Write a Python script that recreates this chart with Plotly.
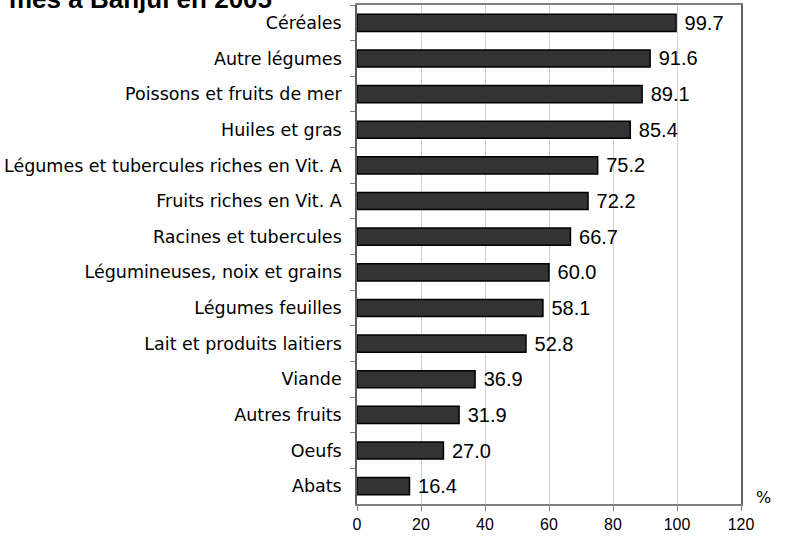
import plotly.graph_objects as go

categories = ["Céréales", "Autre légumes", "Poissons et fruits de mer", "Huiles et gras",
              "Légumes et tubercules riches en Vit. A", "Fruits riches en Vit. A",
              "Racines et tubercules", "Légumineuses, noix et grains", "Légumes feuilles",
              "Lait et produits laitiers", "Viande", "Autres fruits", "Oeufs", "Abats"]
values = [99.7, 91.6, 89.1, 85.4, 75.2, 72.2, 66.7, 60.0, 58.1, 52.8, 36.9, 31.9, 27.0, 16.4]
x_ticks = [0, 20, 40, 60, 80, 100, 120]

fig = go.Figure(go.Bar(
    x=values, y=categories, orientation="h",
    marker=dict(color="#333333", line=dict(color="#000000", width=1.5)),
    width=0.48,
    texttemplate=" %{x:.1f}", textposition="outside",
    constraintext="none",
    textfont=dict(size=20, color="#000000", family="Liberation Sans"),
    cliponaxis=False,
    hoverinfo="skip",
))

L, R, T, B = 357, 44, 5, 37
W, H = 785, 541
pw = W - L - R
ph = H - T - B

fig.update_layout(
    width=W, height=H,
    margin=dict(l=L, r=R, t=T, b=B),
    plot_bgcolor="white", paper_bgcolor="white",
    font=dict(family="Liberation Sans", color="#000000"),
    showlegend=False,
    xaxis=dict(range=[0, 120], tickvals=x_ticks, showgrid=True, gridcolor="#d0d0d0",
               gridwidth=1, zeroline=False, ticks="outside", ticklen=5, tickcolor="#808080",
               showline=True, linecolor="#808080", linewidth=1.5, mirror=True,
               tickfont=dict(size=16), automargin=False),
    yaxis=dict(autorange="reversed", ticks="outside", ticklen=5, tickcolor="#808080",
               tickson="boundaries", showline=True, linecolor="#606060", linewidth=1.5,
               mirror=True, showgrid=False, automargin=False, ticklabelstandoff=10,
               tickfont=dict(size=17.5, family="DejaVu Sans")),
    annotations=[
        dict(text="<b>mes à Banjul en 2005</b>", xref="paper", yref="paper",
             x=(7 - L) / pw, y=1 - (16 - T) / ph, xanchor="left", yanchor="bottom",
             showarrow=False, font=dict(size=26, color="#000000", family="Liberation Sans")),
        dict(text="%", xref="paper", yref="paper", x=(763 - L) / pw, y=1 - (497 - T) / ph,
             xanchor="center", yanchor="middle", showarrow=False,
             font=dict(size=16, color="#000000", family="DejaVu Sans")),
    ],
)

fig.write_html("out.html", config={"displayModeBar": False},
               post_script="document.body.style.margin='0px';")
